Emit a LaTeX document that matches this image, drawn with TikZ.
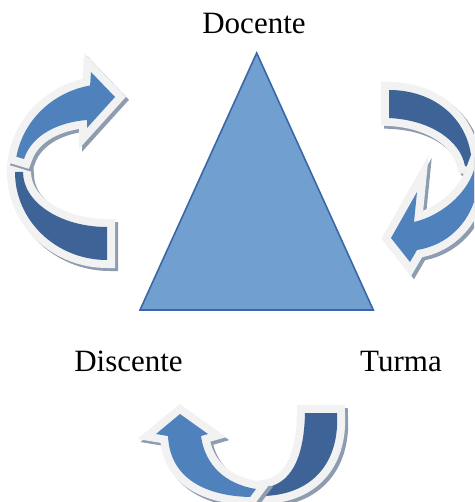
\documentclass[tikz,border=0pt]{standalone}
\usepackage{fontspec}
\setmainfont{Liberation Serif}
\definecolor{clara}{HTML}{4F81BD}
\definecolor{escura}{HTML}{3E6497}
\definecolor{contorno}{HTML}{F2F2F2}
\definecolor{sombra}{HTML}{8E9CB0}
\definecolor{tri}{HTML}{719FD0}
\definecolor{tribordo}{HTML}{3B67A5}
\begin{document}
\begin{tikzpicture}[x=1pt,y=-1pt]
\tikzset{rotulo/.style={anchor=base, font=\fontsize{31}{37}\selectfont},
  faixa/.style={preaction={draw=sombra, fill=sombra, line width=16pt, line join=miter,
      transform canvas={xshift=3pt, yshift=-3pt}},
    preaction={draw=contorno, line width=16pt, line join=miter}}}
\useasboundingbox (0,0) rectangle (474,502);
\clip (0,0) rectangle (474,502);
\coordinate (topo) at (256.7,53);
\coordinate (esq) at (140,310);
\coordinate (dir) at (373.3,310);
\filldraw[fill=tri, draw=tribordo, line width=1.6pt, line join=miter] (topo) -- (esq) -- (dir) -- cycle;
% seta da esquerda
\fill[faixa, fill=escura] (15,172) arc[start angle=180, end angle=90, x radius=92, y radius=88]
  -- (107,227) arc[start angle=90, end angle=180, x radius=84, y radius=55] -- cycle;
\fill[faixa, fill=clara] (16.4,156.7) arc[start angle=190, end angle=259.4, x radius=92, y radius=88]
  -- (91,72) -- (115,97) -- (87,128) -- (87,120) .. controls (60,122) and (32,134) .. (24,159) -- cycle;
% seta da direita
\fill[faixa, fill=escura] (389,90) .. controls (435,90) and (472,120) .. (472,168)
  -- (465,166) .. controls (460,140) and (430,120) .. (389,118) -- cycle;
\fill[faixa, fill=clara] (478,180) .. controls (477,212) and (455,244) .. (417,250)
  -- (410,262) -- (391,238) -- (417,192) -- (414,222) .. controls (440,216) and (466,195) .. (474,170) -- cycle;
% seta de baixo
\fill[faixa, fill=escura] (305,413) -- (337,413) .. controls (340,465) and (310,495) .. (263,496)
  -- (263,488) .. controls (290,485) and (304,460) .. (305,413) -- cycle;
\fill[faixa, fill=clara] (250,497) .. controls (208,496) and (170,480) .. (168,436)
  -- (156,434) -- (180,414) -- (208,434) -- (201,436) .. controls (205,465) and (225,484) .. (256,489) -- cycle;
\node[rotulo] (docente) at (254,33.5) {Docente};
\node[rotulo] (discente) at (128.5,371.5) {Discente};
\node[rotulo] (turma) at (401,371.5) {Turma};
\end{tikzpicture}
\end{document}
